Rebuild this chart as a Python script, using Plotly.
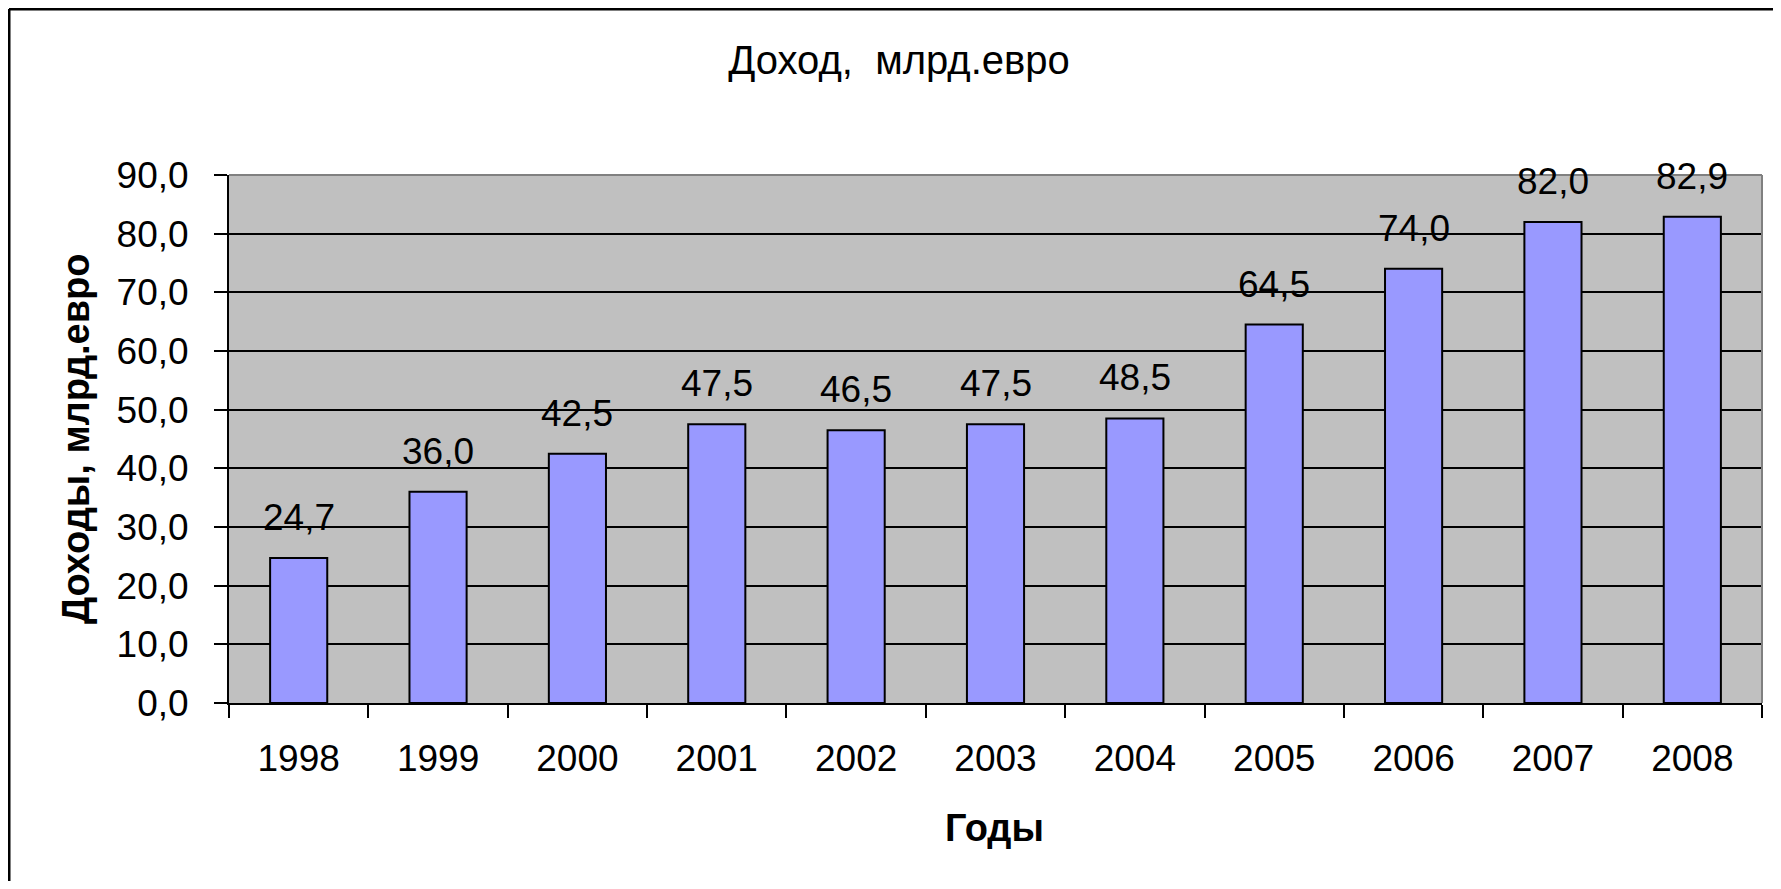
import plotly.graph_objects as go

# ---- data ----
years = ["1998", "1999", "2000", "2001", "2002", "2003", "2004", "2005", "2006", "2007", "2008"]
income = [24.7, 36.0, 42.5, 47.5, 46.5, 47.5, 48.5, 64.5, 74.0, 82.0, 82.9]
income_labels = ["24,7", "36,0", "42,5", "47,5", "46,5", "47,5", "48,5", "64,5", "74,0", "82,0", "82,9"]
y_tickvals = [0, 10, 20, 30, 40, 50, 60, 70, 80, 90]
y_ticktext = ["0,0", "10,0", "20,0", "30,0", "40,0", "50,0", "60,0", "70,0", "80,0", "90,0"]
title_text = "Доход, &nbsp;млрд.евро"
x_title = "Годы"
y_title = "Доходы, млрд.евро"

FONT = "Liberation Sans, Arial, sans-serif"
OFF = 8  # page body margin
W, H = 1781 - 2 * OFF, 889 - 2 * OFF
# plot area in page pixels: x 229..1762, y 175..703
L, T = 229 - OFF, 175 - OFF
R = W - (1762 - OFF)
B = H - (703 - OFF)
PW, PH = W - L - R, H - T - B

def px_x(px):  # page pixel -> paper fraction
    return (px - OFF - L) / PW

def px_y(py):
    return (H - B - (py - OFF)) / PH

fig = go.Figure()
fig.add_trace(go.Bar(
    x=years, y=income,
    marker=dict(color="#9999FF", line=dict(color="black", width=2)),
    hoverinfo="x+y",
))

annotations = []
for i, (yv, t) in enumerate(zip(income, income_labels)):
    annotations.append(dict(
        x=i, y=yv, xref="x", yref="y", text=t, showarrow=False,
        yanchor="bottom", yshift=18, font=dict(family=FONT, size=37, color="black"),
    ))

annotations.append(dict(
    x=px_x(76), y=0.5, xref="paper", yref="paper", text="<b>%s</b>" % y_title,
    textangle=-90, showarrow=False, xanchor="center", yanchor="middle",
    font=dict(family=FONT, size=38, color="black"),
))
annotations.append(dict(
    x=px_x(994), y=px_y(828), xref="paper", yref="paper", text="<b>%s</b>" % x_title,
    showarrow=False, xanchor="center", yanchor="middle",
    font=dict(family=FONT, size=38, color="black"),
))

shapes = [
    # outer chart border (left, top)
    dict(type="line", xref="paper", yref="paper", x0=px_x(9), x1=px_x(9), y0=px_y(9), y1=px_y(1000),
         line=dict(color="black", width=3)),
    dict(type="line", xref="paper", yref="paper", x0=px_x(9), x1=px_x(1800), y0=px_y(9), y1=px_y(9),
         line=dict(color="black", width=3)),
    # plot area top & right gray border
    dict(type="line", xref="paper", yref="paper", x0=0, x1=1, y0=1, y1=1,
         line=dict(color="#808080", width=2), layer="above"),
    dict(type="line", xref="paper", yref="paper", x0=1, x1=1, y0=0, y1=1,
         line=dict(color="#808080", width=2), layer="above"),
]

fig.update_layout(
    width=W, height=H,
    margin=dict(l=L, r=R, t=T, b=B, pad=0),
    paper_bgcolor="white",
    plot_bgcolor="#C0C0C0",
    showlegend=False,
    bargap=0.59,
    title=dict(text=title_text, x=(899 - OFF) / W, xref="container", xanchor="center",
               y=1 - (60 - OFF) / H, yanchor="middle", font=dict(family=FONT, size=40, color="black")),
    font=dict(family=FONT, color="black"),
    annotations=annotations,
    shapes=shapes,
)

fig.update_xaxes(
    type="category", categoryorder="array", categoryarray=years,
    range=[-0.5, len(years) - 0.5],
    showline=True, linecolor="black", linewidth=2,
    ticks="outside", tickson="boundaries", ticklen=13, tickwidth=2, tickcolor="black",
    tickfont=dict(family=FONT, size=37, color="black"),
    tickangle=0,
    ticklabelstandoff=22,
    showgrid=False, zeroline=False,
)
fig.update_yaxes(
    range=[0, 90], tickvals=y_tickvals, ticktext=y_ticktext,
    showline=True, linecolor="black", linewidth=2,
    ticks="outside", ticklen=13, tickwidth=2, tickcolor="black",
    tickfont=dict(family=FONT, size=37, color="black"),
    ticklabelstandoff=18,
    showgrid=True, gridcolor="black", gridwidth=2,
    zeroline=False,
)

fig.write_html("out.html")
